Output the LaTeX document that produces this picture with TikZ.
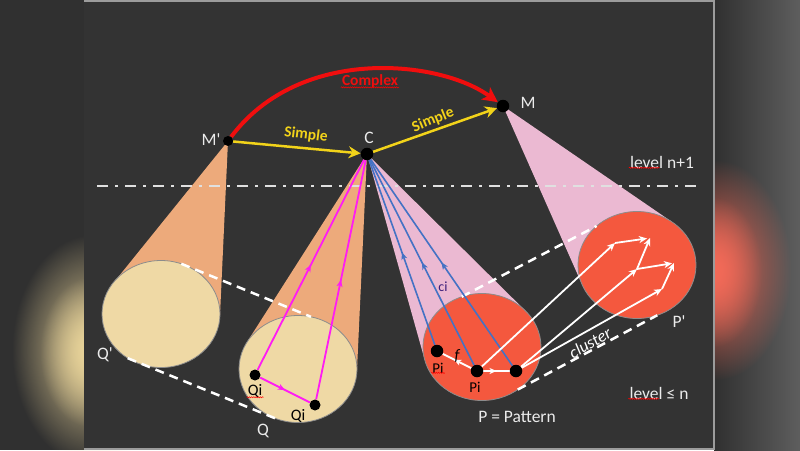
\documentclass[tikz,border=0pt]{standalone}
\usepackage{fontspec}
\setmainfont{Carlito}
\usetikzlibrary{positioning,shapes.geometric,arrows.meta,decorations.markings,decorations.pathmorphing,fadings}

\definecolor{outerbg}{HTML}{303030}
\definecolor{rightgray}{HTML}{5E5E5E}
\definecolor{slidebg}{HTML}{333333}
\definecolor{slideedge}{HTML}{9C9C9C}
\definecolor{glowyellow}{HTML}{E9D49A}
\definecolor{glowred}{HTML}{F26A58}
\definecolor{conepeach}{HTML}{EDAA7B}
\definecolor{discbeige}{HTML}{EFD9A5}
\definecolor{conepink}{HTML}{EBB9D2}
\definecolor{discred}{HTML}{F4583E}
\definecolor{discedge}{HTML}{8C8C8C}
\definecolor{simpleyellow}{HTML}{F2D31A}
\definecolor{complexred}{HTML}{F00E0E}
\definecolor{magline}{HTML}{FF1CF4}
\definecolor{cblue}{HTML}{4472C4}
\definecolor{labelgray}{HTML}{EBEBEB}
\definecolor{cipurple}{HTML}{3B1D7A}

\pgfdeclarelayer{bg}
\pgfdeclarelayer{cone}
\pgfdeclarelayer{top}
\pgfsetlayers{bg,cone,main,top}

\tikzfading[name=glowfade, inner color=transparent!0, outer color=transparent!100]

\begin{document}
\begin{tikzpicture}[x=1pt, y=-1pt]
        \tikzstyle{dot}=[circle, fill=black, inner sep=0pt, minimum size=11pt]
        \tikzstyle{bigdot}=[dot, minimum size=12.5pt]
        \tikzstyle{disc}=[ellipse, draw=discedge, line width=0.8pt, inner sep=0pt, outer sep=0pt, minimum width=118pt, minimum height=107pt]
        \tikzstyle{lbl}=[text=labelgray, inner sep=1pt, font=\fontsize{17.5}{20}\selectfont]
        \tikzstyle{darklbl}=[text=black, inner sep=1pt, font=\fontsize{16}{18}\selectfont]
        \tikzstyle{yellowlbl}=[text=simpleyellow, inner sep=1pt, font=\fontsize{15.5}{18}\selectfont\bfseries]
        \tikzstyle{yellowarrow}=[draw=simpleyellow, line width=2.5pt, -{Stealth[length=12pt, width=12pt, inset=4pt]}]
        \tikzstyle{redarrow}=[draw=complexred, line width=4pt, -{Stealth[length=15pt, width=15pt, inset=4pt]}]
        \tikzstyle{pinkline}=[draw=magline, line width=1.8pt]
        \tikzstyle{blueline}=[draw=cblue, line width=1.6pt]
        \tikzstyle{whiteline}=[draw=white, line width=1.8pt]
        \tikzstyle{whitearrow}=[whiteline, -{Stealth[length=8pt, width=7pt, inset=2.5pt]}]
        \tikzstyle{cyldash}=[draw=white, line width=2.5pt, dash pattern=on 9pt off 6pt]
        \tikzstyle{levelline}=[draw=white!88!black, line width=2.5pt, dash pattern=on 11pt off 7pt on 3pt off 7pt]
        \tikzstyle{squiggle}=[draw=red, line width=0.5pt, decorate, decoration={snake, amplitude=0.6pt, segment length=2.2pt}]
        \tikzset{midarrow/.style={postaction={decorate}, decoration={markings, mark=at position #1 with {\arrow{Stealth[length=7pt, width=6pt, inset=2pt]}}}},
                 midarrow/.default=0.5}

        \useasboundingbox (0,0) rectangle (800,450);

        % slide and blurred surroundings
        \begin{pgfonlayer}{bg}
            \fill[outerbg] (0,0) rectangle (800,450);
            \shade[left color=outerbg, right color=rightgray] (714,0) rectangle (800,450);
            \fill[glowyellow, path fading=glowfade] (92,350) ellipse [x radius=80, y radius=115];
            \fill[glowyellow, path fading=glowfade] (90,352) ellipse [x radius=50, y radius=75];
            \fill[glowred, path fading=glowfade] (716,270) ellipse [x radius=75, y radius=110];
            \fill[glowred, path fading=glowfade] (714,272) ellipse [x radius=48, y radius=75];
            \fill[slidebg] (84,0) rectangle (714,450);
            \draw[slideedge, line width=1.2pt] (84,1) -- (714,1) -- (714,449) -- (84,449);
        \end{pgfonlayer}

        % points
        \begin{pgfonlayer}{top}
            \node[dot, minimum size=10pt] (Mp) at (228,141) {};
            \node[bigdot] (C)   at (367,154) {};
            \node[bigdot] (M)   at (503,106) {};
            \node[dot]    (Qi1) at (255,375) {};
            \node[dot]    (Qi2) at (315,405) {};
            \node[bigdot] (Pi1) at (437,351) {};
            \node[bigdot] (Pi2) at (477,371) {};
            \node[bigdot] (Pi3) at (516,371) {};
        \end{pgfonlayer}

        % discs
        \node[disc, fill=discbeige] (Qp) at (161,314) {};
        \node[disc, fill=discbeige] (Q)  at (298,369) {};
        \node[disc, fill=discred]   (P)  at (482,347) {};
        \node[disc, fill=discred]   (Pp) at (637,265) {};

        % cones
        \begin{pgfonlayer}{cone}
            \fill[conepeach] (Mp.center) -- (Qp.140) -- (Qp.center) -- (Qp.-2) -- cycle;
            \fill[conepeach] (C.center) -- (Q.151) -- (Q.center) -- (Q.-3) -- cycle;
            \fill[conepink]  (C.center) -- (P.193) -- (P.center) -- (P.39) -- cycle;
            \fill[conepink]  (M.center) -- (Pp.200) -- (Pp.center) -- (Pp.50) -- cycle;
        \end{pgfonlayer}

        % cylinders and levels
        \draw[cyldash] (Qp.68) -- (Q.76);
        \draw[cyldash] (Qp.233) -- (Q.246);
        \draw[cyldash] (P.112) -- (Pp.136);
        \draw[cyldash] (P.-50) -- (Pp.-68);

        \coordinate (lvlL) at (97,186);
        \coordinate (lvlR) at (697,186);
        \draw[levelline] (lvlL) -- (lvlR);

        % Q side
        \draw[pinkline, midarrow] (Qi1) -- (C);
        \draw[pinkline, midarrow] (Qi2) -- (C);
        \draw[pinkline, midarrow] (Qi1) -- (Qi2);

        % P side
        \draw[blueline, midarrow] (Pi1) -- (C);
        \draw[blueline, midarrow] (Pi2) -- (C);
        \draw[blueline, midarrow] (Pi3) -- (C);
        \draw[whiteline, midarrow=0.6] (Pi2) -- (Pi1);
        \draw[whiteline, midarrow] (Pi2) -- (Pi3);

        \coordinate (wA) at (615,243);
        \coordinate (wB) at (650,238);
        \coordinate (wC) at (637,269);
        \coordinate (wD) at (674,263);
        \coordinate (wE) at (662,289);
        \draw[whitearrow] (Pi2) -- (wA);
        \draw[whitearrow, shorten >=3pt] (wA) -- (wB);
        \draw[whitearrow] (wC) -- (wB);
        \draw[whitearrow] (Pi3) -- (wC);
        \draw[whitearrow, shorten >=2pt] (wC) -- (wD);
        \draw[whitearrow] (Pi3) -- (wE);
        \draw[whitearrow] (wE) -- (wD);

        % top level
        \draw[yellowarrow] (Mp) -- (C);
        \draw[yellowarrow] (C) -- (M);
        \draw[redarrow] (Mp) .. controls (300,45) and (440,60) .. (M);

        % labels
        \node[lbl] (MpLbl) at (211,140) {M\textquotesingle};
        \node[lbl] (CLbl)  at (369,138) {C};
        \node[lbl] (MLbl)  at (528,103) {M};
        \node[yellowlbl, rotate=-7] (simple1) at (306,135) {Simple};
        \node[yellowlbl, rotate=22] (simple2) at (433,120) {Simple};
        \node[yellowlbl, text=complexred] (complex) at (370,81) {Complex};
        \node[lbl] (lvlA) at (662,162) {level n+1};
        \node[lbl] (lvlB) at (659,393) {level ≤ n};
        \node[lbl] (pattern) at (517,417) {P = Pattern};
        \node[lbl] (QpLbl) at (105,355) {Q\textquotesingle};
        \node[lbl] (QLbl)  at (263,431) {Q};
        \node[lbl] (PpLbl) at (679,322) {P\textquotesingle};
        \node[darklbl] (Qi1Lbl) at (255,391) {Qi};
        \node[darklbl] (Qi2Lbl) at (298,416) {Qi};
        \node[darklbl, font=\fontsize{15}{17}\selectfont] (Pi1Lbl) at (438,368) {Pi};
        \node[darklbl, font=\fontsize{15}{17}\selectfont] (Pi2Lbl) at (475,387) {Pi};
        \node[darklbl, text=cipurple, font=\fontsize{14}{16}\selectfont] (ciLbl) at (443,287) {ci};
        \node[darklbl, font=\fontsize{16}{18}\selectfont\itshape] (fLbl) at (457,356) {f};
        \node[lbl, font=\fontsize{17}{20}\selectfont\itshape, text=white, rotate=30] (clusterLbl) at (590,343) {cluster};

        % spelling marks
        \draw[squiggle] ([yshift=1.5pt]complex.south west) -- ([yshift=1.5pt]complex.south east);
        \draw[squiggle] ([yshift=1.5pt]lvlA.south west) -- ([xshift=31pt, yshift=1.5pt]lvlA.south west);
        \draw[squiggle] ([yshift=1.5pt]lvlB.south west) -- ([xshift=31pt, yshift=1.5pt]lvlB.south west);
        \draw[squiggle] ([yshift=1.5pt]Qi1Lbl.south west) -- ([yshift=1.5pt]Qi1Lbl.south east);
        \draw[squiggle] ([yshift=1.5pt]Pi1Lbl.south west) -- ([yshift=1.5pt]Pi1Lbl.south east);

\end{tikzpicture}
\end{document}
